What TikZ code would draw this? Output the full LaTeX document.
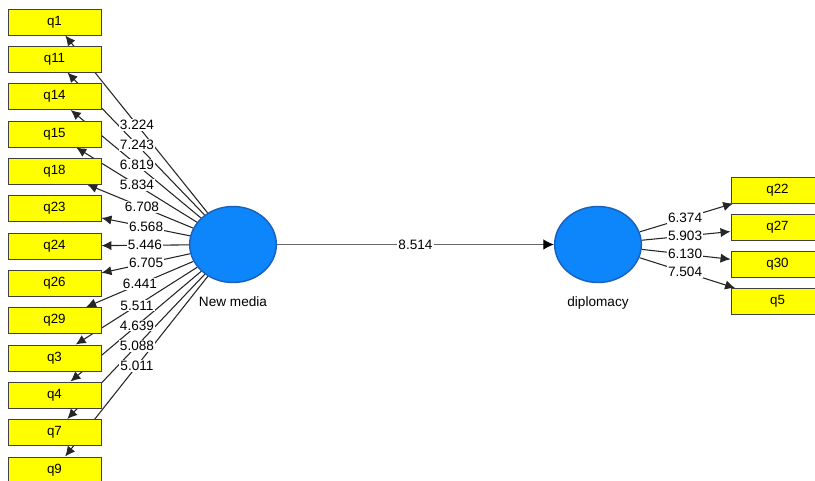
\documentclass[tikz,border=0pt]{standalone}
\usepackage{fontspec}
\setmainfont{Liberation Sans}
\usetikzlibrary{shapes.geometric,arrows.meta,backgrounds,calc}

\definecolor{itemyellow}{RGB}{255,255,0}
\definecolor{lvblue}{RGB}{12,134,250}
\definecolor{lvedge}{RGB}{28,96,190}

\tikzset{
  item/.style={draw=black!75, line width=0.7pt, fill=itemyellow, minimum width=69.75pt, minimum height=19.5pt, inner sep=0pt, font=\fontsize{10}{12}\selectfont},
  latent/.style={ellipse, draw=lvedge, line width=1.1pt, fill=lvblue, minimum width=65pt, minimum height=57pt, inner sep=0pt},
  load/.style={fill=white, inner sep=0.8pt, font=\fontsize{10.2}{12}\selectfont},
  arr/.style={-{Latex[length=7.5pt,width=7pt]}, line width=0.8pt, draw=black!85}
}

\begin{document}
\begin{tikzpicture}[x=0.75pt, y=-0.75pt]
    \useasboundingbox (0,0) rectangle (815,480);

    % latent variables
    \node [latent] (media) at (233,244.5) {};
    \node [latent] (diplo) at (598,244.5) {};
    \node (medialbl) at (233,302) {\fontsize{10.2}{12}\selectfont New media};
    \node (diplolbl) at (598,303) {\fontsize{10.2}{12}\selectfont diplomacy};

    % indicators of New media
    \node [item] (q1) at (54.5,22) {q1};
    \node [item] (q11) at (54.5,59) {q11};
    \node [item] (q14) at (54.5,96.5) {q14};
    \node [item] (q15) at (54.5,134) {q15};
    \node [item] (q18) at (54.5,171) {q18};
    \node [item] (q23) at (54.5,208.5) {q23};
    \node [item] (q24) at (54.5,246) {q24};
    \node [item] (q26) at (54.5,283) {q26};
    \node [item] (q29) at (54.5,320.5) {q29};
    \node [item] (q3) at (54.5,358) {q3};
    \node [item] (q4) at (54.5,395) {q4};
    \node [item] (q7) at (54.5,432.5) {q7};
    \node [item] (q9) at (54.5,470) {q9};

    % indicators of diplomacy
    \node [item] (q22) at (777.5,190) {q22};
    \node [item] (q27) at (777.5,227) {q27};
    \node [item] (q30) at (777.5,264.5) {q30};
    \node [item] (q5) at (777.5,301.5) {q5};

    % arrows go behind the boxes
    \begin{scope}[on background layer]
      \draw [arr] (media) -- (q1);
      \draw [arr] (media) -- (q11);
      \draw [arr] (media) -- (q14);
      \draw [arr] (media) -- (q15);
      \draw [arr] (media) -- (q18);
      \draw [arr] (media) -- (q23);
      \draw [arr] (media) -- (q24);
      \draw [arr] (media) -- (q26);
      \draw [arr] (media) -- (q29);
      \draw [arr] (media) -- (q3);
      \draw [arr] (media) -- (q4);
      \draw [arr] (media) -- (q7);
      \draw [arr] (media) -- (q9);

      \draw [arr] (diplo) -- (q22);
      \draw [arr] (diplo) -- (q27);
      \draw [arr] (diplo) -- (q30);
      \draw [arr] (diplo) -- (q5);

      \draw [arr, line width=1pt, draw=black!60, -{Latex[length=8pt,width=8pt,color=black]}] (media) -- (diplo);
    \end{scope}

    % t values
    \node [load] (t1) at ($(media)!0.538!(q1)$) {3.224};
    \node [load] (t11) at ($(media)!0.538!(q11)$) {7.243};
    \node [load] (t14) at ($(media)!0.538!(q14)$) {6.819};
    \node [load] (t15) at ($(media)!0.538!(q15)$) {5.834};
    \node [load] (t18) at ($(media)!0.51!(q18)$) {6.708};
    \node [load] (t23) at ($(media)!0.487!(q23)$) {6.568};
    \node [load] (t24) at ($(media)!0.493!(q24)$) {5.446};
    \node [load] (t26) at ($(media)!0.487!(q26)$) {6.705};
    \node [load] (t29) at ($(media)!0.521!(q29)$) {6.441};
    \node [load] (t3) at ($(media)!0.538!(q3)$) {5.511};
    \node [load] (t4) at ($(media)!0.538!(q4)$) {4.639};
    \node [load] (t7) at ($(media)!0.538!(q7)$) {5.088};
    \node [load] (t9) at ($(media)!0.538!(q9)$) {5.011};

    \node [load] (t22) at ($(diplo)!0.485!(q22)$) {6.374};
    \node [load] (t27) at ($(diplo)!0.485!(q27)$) {5.903};
    \node [load] (t30) at ($(diplo)!0.485!(q30)$) {6.130};
    \node [load] (t5) at ($(diplo)!0.485!(q5)$) {7.504};

    \node [load] (tpath) at ($(media)!0.5!(diplo)$) {8.514};

\end{tikzpicture}
\end{document}
